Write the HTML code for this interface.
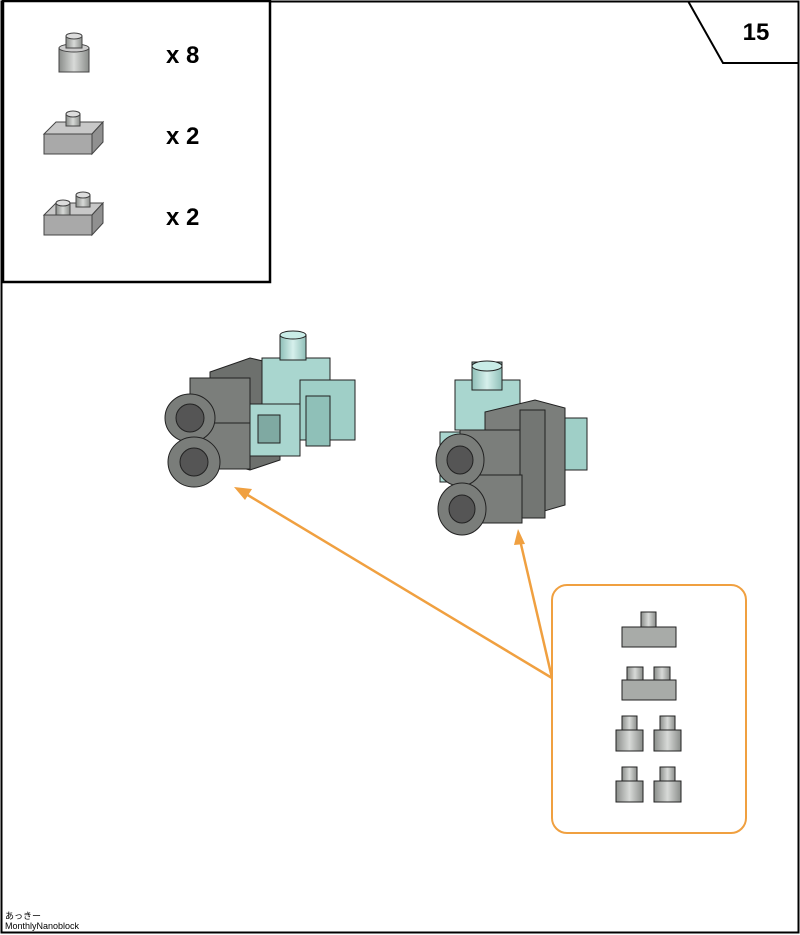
<!DOCTYPE html>
<html><head><style>
html,body{margin:0;padding:0;background:#fff;}
svg{display:block;}
text{font-family:"Liberation Sans","Noto Sans CJK JP",sans-serif;}
</style></head><body>
<svg width="800" height="935" viewBox="0 0 800 935" xmlns="http://www.w3.org/2000/svg">
<defs>
<linearGradient id="cyl" x1="0" x2="1"><stop offset="0" stop-color="#8a8d8a"/><stop offset="0.5" stop-color="#d8dad8"/><stop offset="1" stop-color="#8a8d8a"/></linearGradient>
<linearGradient id="cylc" x1="0" x2="1"><stop offset="0" stop-color="#8fbfb8"/><stop offset="0.5" stop-color="#d6f0ec"/><stop offset="1" stop-color="#8fbfb8"/></linearGradient>
</defs>
<rect x="1.5" y="1.5" width="797" height="931" fill="#fff" stroke="#000" stroke-width="2"/>
<rect x="3" y="1" width="267" height="281" fill="#fff" stroke="#000" stroke-width="2.5"/>
<polyline points="688,1 723,63 798,63" fill="none" stroke="#000" stroke-width="2"/>
<text x="756" y="40" font-size="24" font-weight="bold" text-anchor="middle">15</text>
<!-- legend -->
<g stroke="#444" stroke-width="1">
<rect x="59" y="48" width="30" height="24" fill="url(#cyl)"/><ellipse cx="74" cy="48" rx="15" ry="4" fill="#ccc"/>
<rect x="66" y="36" width="16" height="12" fill="url(#cyl)"/><ellipse cx="74" cy="36" rx="8" ry="3" fill="#ddd"/>
<polygon points="44,134 56,122 103,122 92,134" fill="#c8c8c8"/><rect x="44" y="134" width="48" height="20" fill="#a9a9a9"/><polygon points="92,134 103,122 103,142 92,154" fill="#909090"/>
<rect x="66" y="114" width="14" height="12" fill="url(#cyl)"/><ellipse cx="73" cy="114" rx="7" ry="3" fill="#ddd"/>
<polygon points="44,215 56,203 103,203 92,215" fill="#c8c8c8"/><rect x="44" y="215" width="48" height="20" fill="#a9a9a9"/><polygon points="92,215 103,203 103,223 92,235" fill="#909090"/>
<rect x="56" y="203" width="14" height="12" fill="url(#cyl)"/><ellipse cx="63" cy="203" rx="7" ry="3" fill="#ddd"/>
<rect x="76" y="195" width="14" height="12" fill="url(#cyl)"/><ellipse cx="83" cy="195" rx="7" ry="3" fill="#ddd"/>
</g>
<text x="166" y="63" font-size="24" font-weight="bold">x 8</text>
<text x="166" y="144" font-size="24" font-weight="bold">x 2</text>
<text x="166" y="225" font-size="24" font-weight="bold">x 2</text>
<!-- model 1 -->
<g stroke="#222" stroke-width="1">
<polygon points="210,372 250,358 280,365 280,460 250,470 210,460" fill="#6d706d"/>
<rect x="262" y="358" width="68" height="46" fill="#a9d6cf"/>
<rect x="300" y="380" width="55" height="60" fill="#9fcfc7"/>
<rect x="248" y="404" width="52" height="52" fill="#a9d6cf"/>
<rect x="258" y="415" width="22" height="28" fill="#7fa9a2"/>
<rect x="306" y="396" width="24" height="50" fill="#8fc0b8"/>
<rect x="280" y="335" width="26" height="25" fill="url(#cylc)"/><ellipse cx="293" cy="335" rx="13" ry="4" fill="#c9ece7"/>
<rect x="190" y="378" width="60" height="48" fill="#7b7e7b"/>
<rect x="190" y="423" width="60" height="46" fill="#7b7e7b"/>
<ellipse cx="190" cy="418" rx="25" ry="24" fill="#7a7d7a"/><ellipse cx="190" cy="418" rx="14" ry="14" fill="#555"/>
<ellipse cx="194" cy="462" rx="26" ry="25" fill="#7a7d7a"/><ellipse cx="194" cy="462" rx="14" ry="14" fill="#555"/>
</g>
<!-- model 2 -->
<g stroke="#222" stroke-width="1">
<rect x="455" y="380" width="65" height="50" fill="#a9d6cf"/>
<rect x="560" y="418" width="27" height="52" fill="#9fcfc7"/>
<rect x="440" y="432" width="40" height="50" fill="#a9d6cf"/>
<rect x="472" y="362" width="30" height="28" fill="url(#cylc)"/><ellipse cx="487" cy="366" rx="15" ry="5" fill="#c9ece7"/>
<polygon points="485,412 535,400 565,408 565,505 520,518 485,515" fill="#7b7e7b"/>
<rect x="520" y="410" width="25" height="108" fill="#737673"/>
<rect x="460" y="430" width="60" height="46" fill="#7b7e7b"/>
<rect x="462" y="475" width="60" height="48" fill="#7b7e7b"/>
<ellipse cx="460" cy="460" rx="24" ry="26" fill="#7a7d7a"/><ellipse cx="460" cy="460" rx="13" ry="14" fill="#555"/>
<ellipse cx="462" cy="509" rx="24" ry="26" fill="#7a7d7a"/><ellipse cx="462" cy="509" rx="13" ry="14" fill="#555"/>
</g>
<!-- arrows -->
<g stroke="#f0a040" stroke-width="2.5" fill="none">
<line x1="552" y1="678" x2="246" y2="494"/>
<line x1="552" y1="678" x2="520" y2="540"/>
</g>
<polygon points="234,487 252,489 245,500" fill="#f0a040"/>
<polygon points="518,529 525,544 514,545" fill="#f0a040"/>
<rect x="552" y="585" width="194" height="248" rx="15" fill="#fff" stroke="#f0a040" stroke-width="2"/>
<!-- orange box pieces -->
<g stroke="#222" stroke-width="1" fill="#a8aba8">
<rect x="641" y="612" width="15" height="15" fill="url(#cyl)"/><rect x="622" y="627" width="54" height="20"/>
<rect x="627" y="667" width="16" height="13" fill="url(#cyl)"/><rect x="654" y="667" width="16" height="13" fill="url(#cyl)"/><rect x="622" y="680" width="54" height="20"/>
<rect x="622" y="716" width="15" height="14" fill="url(#cyl)"/><rect x="616" y="730" width="27" height="21" fill="url(#cyl)"/>
<rect x="660" y="716" width="15" height="14" fill="url(#cyl)"/><rect x="654" y="730" width="27" height="21" fill="url(#cyl)"/>
<rect x="622" y="767" width="15" height="14" fill="url(#cyl)"/><rect x="616" y="781" width="27" height="21" fill="url(#cyl)"/>
<rect x="660" y="767" width="15" height="14" fill="url(#cyl)"/><rect x="654" y="781" width="27" height="21" fill="url(#cyl)"/>
</g>
<text x="5" y="919" font-size="9">あっきー</text>
<text x="5" y="929" font-size="9">MonthlyNanoblock</text>
</svg>
</body></html>
